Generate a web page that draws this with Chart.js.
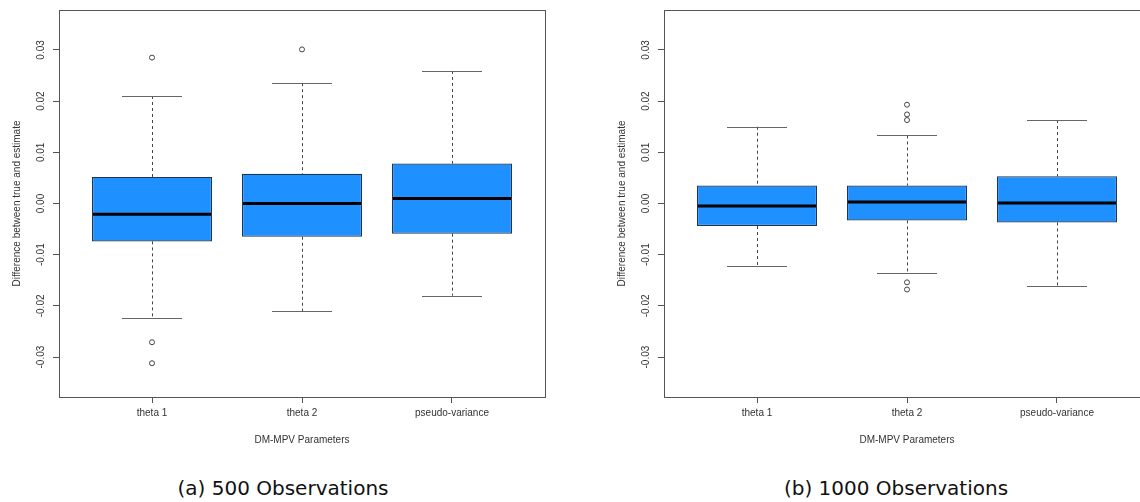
<!DOCTYPE html>
<html>
<head>
<meta charset="utf-8">
<script src="https://cdn.jsdelivr.net/npm/chart.js@4.4.1/dist/chart.umd.min.js"></script>
<style>
  body { margin: 0; width: 1140px; height: 502px; overflow: hidden; background: #fff; position: relative; }
  canvas { position: absolute; top: 0; }
  #chart500 { left: 0; }
  #chart1000 { left: 605px; }
  .caption { position: absolute; top: 474px; margin: 0; width: 300px; text-align: center;
             font-family: 'DejaVu Sans', sans-serif; font-size: 20px; color: #111; line-height: 28px; }
  #caption500 { left: 133px; }
  #caption1000 { left: 746px; }
</style>
</head>
<body>
<canvas id="chart500" width="570" height="460"></canvas>
<canvas id="chart1000" width="570" height="460"></canvas>
<p class="caption" id="caption500">(a) 500 Observations</p>
<p class="caption" id="caption1000">(b) 1000 Observations</p>
<script>
const categories = ['theta 1', 'theta 2', 'pseudo-variance'];
const yTicks = [-0.03, -0.02, -0.01, 0, 0.01, 0.02, 0.03];
const yTickLabels = ['-0.03', '-0.02', '-0.01', '0.00', '0.01', '0.02', '0.03'];

// 500 observations
const lower500 = [-0.0224, -0.0210, -0.0180];
const q1_500 = [-0.0074, -0.0065, -0.0059];
const median500 = [-0.0021, 0.0000, 0.0010];
const q3_500 = [0.0052, 0.0058, 0.0078];
const upper500 = [0.0210, 0.0235, 0.0259];
const outliers500 = [[0.0285, -0.0271, -0.0312], [0.0301], []];

// 1000 observations
const lower1000 = [-0.0122, -0.0135, -0.0161];
const q1_1000 = [-0.0044, -0.0033, -0.0037];
const median1000 = [-0.0005, 0.0003, 0.0001];
const q3_1000 = [0.0035, 0.0035, 0.0053];
const upper1000 = [0.0150, 0.0133, 0.0163];
const outliers1000 = [[], [0.0193, 0.0174, 0.0163, -0.0154, -0.0168], []];

const labelFont = "'Liberation Sans', Arial, sans-serif";

// whiskers, caps, medians, frame and rotated y labels
const boxParts = {
  id: 'boxParts',
  beforeDatasetsDraw(chart, args, opts) {
    const ctx = chart.ctx;
    const x = chart.scales.x;
    const y = chart.scales.y;
    ctx.save();
    opts.lower.forEach((lo, i) => {
      const cx = Math.round(x.getPixelForValue(i + 1)) + 0.5;
      ctx.strokeStyle = '#444';
      ctx.lineWidth = 1;
      ctx.setLineDash([3, 3]);
      ctx.beginPath();
      ctx.moveTo(cx, y.getPixelForValue(opts.upper[i]));
      ctx.lineTo(cx, y.getPixelForValue(opts.q3[i]));
      ctx.moveTo(cx, y.getPixelForValue(opts.q1[i]));
      ctx.lineTo(cx, y.getPixelForValue(lo));
      ctx.stroke();
      ctx.setLineDash([]);
      ctx.strokeStyle = '#666';
      ctx.beginPath();
      for (let v of [lo, opts.upper[i]]) {
        const py = Math.round(y.getPixelForValue(v)) + 0.5;
        ctx.moveTo(x.getPixelForValue(i + 0.8), py);
        ctx.lineTo(x.getPixelForValue(i + 1.2), py);
      }
      ctx.stroke();
    });
    ctx.restore();
  },
  afterDatasetsDraw(chart, args, opts) {
    const ctx = chart.ctx;
    const x = chart.scales.x;
    const y = chart.scales.y;
    ctx.save();
    ctx.strokeStyle = '#000';
    ctx.lineWidth = 3;
    opts.median.forEach((m, i) => {
      const py = y.getPixelForValue(m);
      ctx.beginPath();
      ctx.moveTo(x.getPixelForValue(i + 0.6) + 1, py);
      ctx.lineTo(x.getPixelForValue(i + 1.4) - 1, py);
      ctx.stroke();
    });
    ctx.restore();
  },
  afterDraw(chart) {
    const ctx = chart.ctx;
    const area = chart.chartArea;
    const y = chart.scales.y;
    ctx.save();
    ctx.strokeStyle = '#555';
    ctx.lineWidth = 1;
    ctx.strokeRect(area.left + 0.5, area.top + 0.5, area.right - area.left, area.bottom - area.top);
    ctx.fillStyle = '#333';
    ctx.font = '10px ' + labelFont;
    ctx.textAlign = 'center';
    ctx.textBaseline = 'middle';
    yTicks.forEach((v, i) => {
      ctx.save();
      ctx.translate(41, y.getPixelForValue(v));
      ctx.rotate(-Math.PI / 2);
      ctx.fillText(yTickLabels[i], 0, 0);
      ctx.restore();
    });
    ctx.restore();
  }
};

init();

function init() {
  createBoxplot('chart500', {
    lower: lower500, q1: q1_500, median: median500, q3: q3_500, upper: upper500, outliers: outliers500
  });
  createBoxplot('chart1000', {
    lower: lower1000, q1: q1_1000, median: median1000, q3: q3_1000, upper: upper1000, outliers: outliers1000
  });
}

function boxData(q1, q3) {
  return q1.map((v, i) => ({ x: i + 1, y: [v, q3[i]] }));
}

function outlierData(outliers) {
  const points = [];
  outliers.forEach((list, i) => {
    for (let v of list) points.push({ x: i + 1, y: v });
  });
  return points;
}

function createBoxplot(canvasId, stats) {
  const ctx = document.getElementById(canvasId).getContext('2d');

  new Chart(ctx, {
    type: 'bar',
    data: {
      datasets: [{
        data: boxData(stats.q1, stats.q3),
        backgroundColor: '#1E90FF',
        borderColor: '#1f3550',
        borderWidth: 1.2,
        borderSkipped: false,
        barPercentage: 0.8,
        categoryPercentage: 1,
      },
      {
        type: 'scatter',
        data: outlierData(stats.outliers),
        pointStyle: 'circle',
        pointRadius: 2.5,
        backgroundColor: 'rgba(0,0,0,0)',
        borderColor: '#444',
        borderWidth: 1,
      }]
    },
    options: {
      responsive: false,
      animation: false,
      layout: { padding: { top: 10, right: 25, left: 0, bottom: 0 } },
      plugins: {
        legend: { display: false },
        tooltip: { enabled: false },
        boxParts: stats,
      },
      scales: {
        x: {
          type: 'linear',
          min: 0.38,
          max: 3.62,
          offset: false,
          afterBuildTicks: (scale) => { scale.ticks = categories.map((c, i) => ({ value: i + 1 })); },
          afterFit: (scale) => { scale.height = 63; },
          grid: { offset: false, drawOnChartArea: false, tickLength: 6, color: '#555' },
          border: { display: false },
          ticks: {
            autoSkip: false, maxRotation: 0, padding: 4, color: '#333',
            font: { family: labelFont, size: 10 },
            callback: (value) => categories[value - 1],
          },
          title: {
            display: true, text: 'DM-MPV Parameters', color: '#333',
            font: { family: labelFont, size: 10 }, padding: { top: 0, bottom: 14 },
          },
        },
        y: {
          min: -0.0378,
          max: 0.0378,
          afterBuildTicks: (scale) => { scale.ticks = yTicks.map((v) => ({ value: v })); },
          afterFit: (scale) => { scale.width = 59; },
          grid: { drawOnChartArea: false, tickLength: 6, color: '#555' },
          border: { display: false },
          ticks: { display: false },
          title: {
            display: true, text: 'Difference between true and estimate', color: '#333',
            font: { family: labelFont, size: 10 }, padding: { top: 11, bottom: 0 },
          },
        }
      }
    },
    plugins: [boxParts],
  });
}
</script>
</body>
</html>
